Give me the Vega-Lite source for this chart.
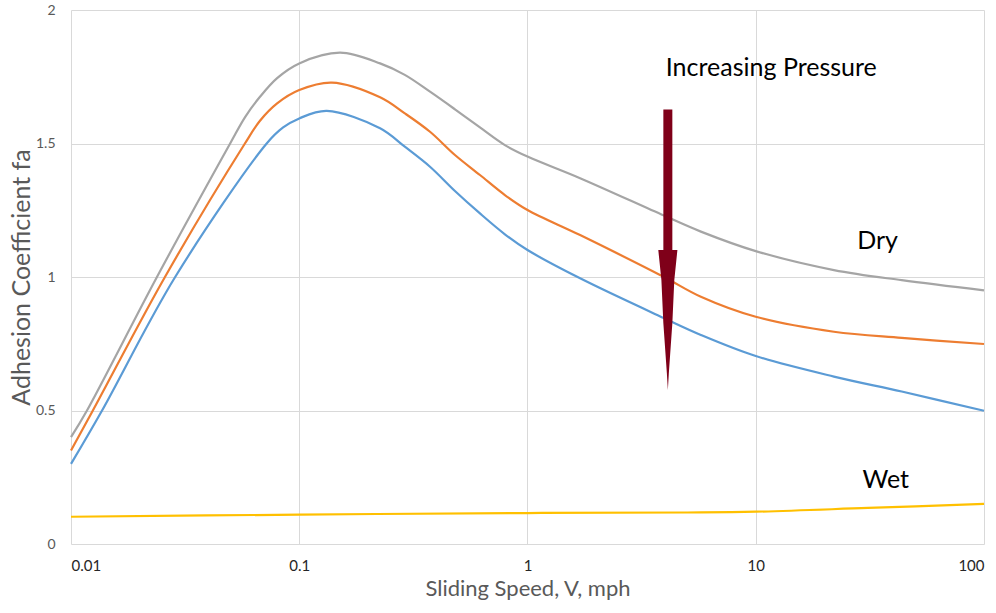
{
  "$schema": "https://vega.github.io/schema/vega-lite/v6.json",
  "width": 913,
  "height": 534,
  "autosize": "none",
  "padding": {"left": 71, "top": 10, "right": 12, "bottom": 69},
  "background": "white",
  "config": {
    "view": {"stroke": null},
    "font": "Lato",
    "axis": {"gridColor": "#D9D9D9", "gridWidth": 1, "domain": false, "ticks": false, "labelFont": "Lato", "titleFont": "Lato", "titleFontWeight": "normal"}
  },
  "datasets": {
    "curves": [
      {"series": "High", "v": 0.01, "fa": 0.40},
      {"series": "High", "v": 0.01175, "fa": 0.50},
      {"series": "High", "v": 0.0238, "fa": 1.00},
      {"series": "High", "v": 0.0498, "fa": 1.50},
      {"series": "High", "v": 0.058, "fa": 1.60},
      {"series": "High", "v": 0.0673, "fa": 1.675},
      {"series": "High", "v": 0.08, "fa": 1.745},
      {"series": "High", "v": 0.1, "fa": 1.80},
      {"series": "High", "v": 0.151, "fa": 1.84},
      {"series": "High", "v": 0.226, "fa": 1.80},
      {"series": "High", "v": 0.29, "fa": 1.757},
      {"series": "High", "v": 0.374, "fa": 1.694},
      {"series": "High", "v": 0.481, "fa": 1.628},
      {"series": "High", "v": 0.619, "fa": 1.56},
      {"series": "High", "v": 0.796, "fa": 1.494},
      {"series": "High", "v": 1, "fa": 1.451},
      {"series": "High", "v": 1.7, "fa": 1.37},
      {"series": "High", "v": 3.96, "fa": 1.23},
      {"series": "High", "v": 5.75, "fa": 1.17},
      {"series": "High", "v": 10, "fa": 1.097},
      {"series": "High", "v": 22, "fa": 1.026},
      {"series": "High", "v": 43.6, "fa": 0.988},
      {"series": "High", "v": 100, "fa": 0.95},
      {"series": "Medium", "v": 0.01, "fa": 0.35},
      {"series": "Medium", "v": 0.01247, "fa": 0.50},
      {"series": "Medium", "v": 0.0258, "fa": 1.00},
      {"series": "Medium", "v": 0.0578, "fa": 1.50},
      {"series": "Medium", "v": 0.0673, "fa": 1.585},
      {"series": "Medium", "v": 0.08, "fa": 1.65},
      {"series": "Medium", "v": 0.1, "fa": 1.70},
      {"series": "Medium", "v": 0.139, "fa": 1.728},
      {"series": "Medium", "v": 0.226, "fa": 1.673},
      {"series": "Medium", "v": 0.29, "fa": 1.613},
      {"series": "Medium", "v": 0.374, "fa": 1.544},
      {"series": "Medium", "v": 0.481, "fa": 1.457},
      {"series": "Medium", "v": 0.619, "fa": 1.382},
      {"series": "Medium", "v": 0.796, "fa": 1.307},
      {"series": "Medium", "v": 1, "fa": 1.251},
      {"series": "Medium", "v": 1.7, "fa": 1.157},
      {"series": "Medium", "v": 3.96, "fa": 1.00},
      {"series": "Medium", "v": 5.75, "fa": 0.926},
      {"series": "Medium", "v": 10, "fa": 0.851},
      {"series": "Medium", "v": 22, "fa": 0.795},
      {"series": "Medium", "v": 43.6, "fa": 0.772},
      {"series": "Medium", "v": 100, "fa": 0.749},
      {"series": "Low", "v": 0.01, "fa": 0.30},
      {"series": "Low", "v": 0.01368, "fa": 0.50},
      {"series": "Low", "v": 0.0286, "fa": 1.00},
      {"series": "Low", "v": 0.072, "fa": 1.50},
      {"series": "Low", "v": 0.085, "fa": 1.56},
      {"series": "Low", "v": 0.1, "fa": 1.594},
      {"series": "Low", "v": 0.132, "fa": 1.622},
      {"series": "Low", "v": 0.226, "fa": 1.557},
      {"series": "Low", "v": 0.29, "fa": 1.488},
      {"series": "Low", "v": 0.374, "fa": 1.413},
      {"series": "Low", "v": 0.481, "fa": 1.322},
      {"series": "Low", "v": 0.619, "fa": 1.238},
      {"series": "Low", "v": 0.796, "fa": 1.16},
      {"series": "Low", "v": 1, "fa": 1.101},
      {"series": "Low", "v": 1.7, "fa": 0.995},
      {"series": "Low", "v": 3.96, "fa": 0.846},
      {"series": "Low", "v": 5.75, "fa": 0.783},
      {"series": "Low", "v": 10, "fa": 0.704},
      {"series": "Low", "v": 22, "fa": 0.627},
      {"series": "Low", "v": 43.6, "fa": 0.571},
      {"series": "Low", "v": 100, "fa": 0.499},
      {"series": "Wet", "v": 0.01, "fa": 0.102},
      {"series": "Wet", "v": 0.1, "fa": 0.11},
      {"series": "Wet", "v": 1, "fa": 0.116},
      {"series": "Wet", "v": 5, "fa": 0.118},
      {"series": "Wet", "v": 10, "fa": 0.121},
      {"series": "Wet", "v": 31, "fa": 0.135},
      {"series": "Wet", "v": 100, "fa": 0.15}
    ],
    "arrow": [
      {"v": 4.12, "fa": 1.102}
    ],
    "notes": [
      {"label": "Increasing Pressure", "v": 11.7, "fa": 1.783},
      {"label": "Dry", "v": 34.2, "fa": 1.135},
      {"label": "Wet", "v": 37.1, "fa": 0.24}
    ]
  },
  "layer": [
    {
      "data": {"name": "curves"},
      "mark": {"type": "line", "interpolate": "catmull-rom", "strokeWidth": 2.2},
      "encoding": {
        "x": {
          "field": "v", "type": "quantitative",
          "scale": {"type": "log", "domain": [0.01, 100], "nice": false},
          "axis": {
            "values": [0.01, 0.1, 1, 10, 100],
            "labelExpr": "datum.value < 1 ? format(datum.value, '.2~f') : format(datum.value, 'd')",
            "labelColor": "#262626", "labelFontSize": 15, "labelPadding": 14,
            "title": "Sliding Speed, V, mph", "titleColor": "#595959", "titleFontSize": 22, "titlePadding": 5
          }
        },
        "y": {
          "field": "fa", "type": "quantitative",
          "scale": {"domain": [0, 2], "nice": false},
          "axis": {
            "values": [0, 0.5, 1, 1.5, 2],
            "format": "~g",
            "labelColor": "#595959", "labelFontSize": 14, "labelPadding": 16,
            "title": "Adhesion Coefficient fa", "titleColor": "#595959", "titleFontSize": 25, "titlePadding": 1
          }
        },
        "color": {
          "field": "series", "type": "nominal",
          "scale": {"domain": ["High", "Medium", "Low", "Wet"], "range": ["#A5A5A5", "#ED7D31", "#5B9BD5", "#FFC000"]},
          "legend": null
        }
      }
    },
    {
      "data": {"name": "arrow"},
      "mark": {
        "type": "point", "filled": true, "color": "#7F0019", "opacity": 1, "strokeWidth": 0,
        "size": 78792,
        "shape": "M-0.032,-1 L0.032,-1 L0.032,0.0025 L0.068,0.0025 L0.046,0.216 L0.032,0.523 L0.007,0.879 L0,1 L-0.007,0.879 L-0.032,0.523 L-0.046,0.216 L-0.068,0.0025 L-0.032,0.0025 Z"
      },
      "encoding": {
        "x": {"field": "v", "type": "quantitative"},
        "y": {"field": "fa", "type": "quantitative"}
      }
    },
    {
      "data": {"name": "notes"},
      "mark": {"type": "text", "font": "Lato", "fontSize": 25, "color": "#000000", "align": "center", "baseline": "middle"},
      "encoding": {
        "x": {"field": "v", "type": "quantitative"},
        "y": {"field": "fa", "type": "quantitative"},
        "text": {"field": "label", "type": "nominal"}
      }
    }
  ]
}
